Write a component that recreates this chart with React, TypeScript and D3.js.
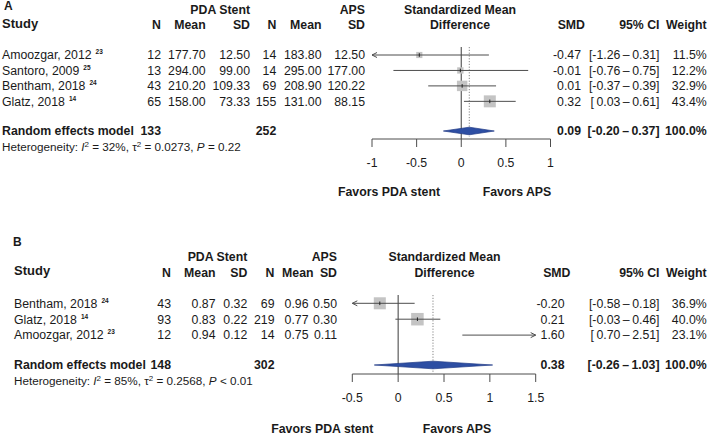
import React from "react";
import * as d3 from "d3";

// ---------- Panel A data ----------
const studiesA = ["Amoozgar, 2012", "Santoro, 2009", "Bentham, 2018", "Glatz, 2018"];
const refsA = ["23", "25", "24", "14"];
const nEA = ["12", "13", "43", "65"];
const meanEA = ["177.70", "294.00", "210.20", "158.00"];
const sdEA = ["12.50", "99.00", "109.33", "73.33"];
const nCA = ["14", "14", "69", "155"];
const meanCA = ["183.80", "295.00", "208.90", "131.00"];
const sdCA = ["12.50", "177.00", "120.22", "88.15"];
const smdA = [-0.47, -0.01, 0.01, 0.32];
const loA = [-1.26, -0.76, -0.37, 0.03];
const hiA = [0.31, 0.75, 0.39, 0.61];
const weightA = [11.5, 12.2, 32.9, 43.4];
const pooledA = { nE: "133", nC: "252", smd: 0.09, lo: -0.2, hi: 0.37 };
const hetA = { i2: "32%", tau2: "0.0273", p: "= 0.22" };
const ticksA = [-1, -0.5, 0, 0.5, 1];

// ---------- Panel B data ----------
const studiesB = ["Bentham, 2018", "Glatz, 2018", "Amoozgar, 2012"];
const refsB = ["24", "14", "23"];
const nEB = ["43", "93", "12"];
const meanEB = ["0.87", "0.83", "0.94"];
const sdEB = ["0.32", "0.22", "0.12"];
const nCB = ["69", "219", "14"];
const meanCB = ["0.96", "0.77", "0.75"];
const sdCB = ["0.50", "0.30", "0.11"];
const smdB = [-0.2, 0.21, 1.6];
const loB = [-0.58, -0.03, 0.7];
const hiB = [0.18, 0.46, 2.51];
const weightB = [36.9, 40.0, 23.1];
const pooledB = { nE: "148", nC: "302", smd: 0.38, lo: -0.26, hi: 1.03 };
const hetB = { i2: "85%", tau2: "0.2568", p: "< 0.01" };
const ticksB = [-0.5, 0, 0.5, 1, 1.5];

const FONT = "'Liberation Sans', Arial, Helvetica, sans-serif";
const TXT = "#1a1a1a";
const LINE = "#4d4d4d";

const fmt2 = (v: number) => (v < 0 ? "-" : "") + Math.abs(v).toFixed(2);
const fmtCI = (lo: number, hi: number) =>
  "[" + (lo < 0 ? "-" : "\u2009") + Math.abs(lo).toFixed(2) + "\u2009\u2013\u2009" + fmt2(hi) + "]";
const fmtTick = (v: number) => (v < 0 ? "-" : "") + String(Math.abs(v));

type Cols = { nE: number; meanE: number; sdE: number; nC: number; meanC: number; sdC: number };

type PanelProps = {
  letter: string;
  letterX: number;
  letterY: number;
  left: number;
  studies: string[];
  refs: string[];
  nE: string[];
  meanE: string[];
  sdE: string[];
  nC: string[];
  meanC: string[];
  sdC: string[];
  smd: number[];
  lo: number[];
  hi: number[];
  weight: number[];
  pooled: { nE: string; nC: string; smd: number; lo: number; hi: number };
  het: { i2: string; tau2: string; p: string };
  ticks: number[];
  xRange: [number, number];
  cols: Cols;
  hcols: Cols;
  right: { smdHead: number; smd: number; ci: number; w: number };
  hdr1: number;
  hdr2: number;
  studyY: number;
  row0: number;
  rowStep: number;
  pooledY: number;
  hetY: number;
  axisY: number;
  lineTop: number;
  favorY: number;
  favorLeftEnd: number;
  favorRightStart: number;
  smdCenter: number;
  sqK: number;
};

function Arrow({ x1, x2, y }: { x1: number; x2: number; y: number }) {
  const dir = x2 > x1 ? 1 : -1;
  return (
    <g stroke={LINE} strokeWidth={1} fill="none">
      <line x1={x1} x2={x2} y1={y} y2={y} />
      <path d={`M${x2 - dir * 5},${y - 2.5}L${x2},${y}L${x2 - dir * 5},${y + 2.5}`} />
    </g>
  );
}

function Panel(p: PanelProps) {
  const [d0, d1] = d3.extent(p.ticks) as [number, number];
  const x = d3.scaleLinear().domain([d0, d1]).range(p.xRange);
  const y = d3.scaleLinear().domain([0, 1]).range([p.row0, p.row0 + p.rowStep]);
  const fs = 12.3;
  const bold = { fontWeight: 700 } as const;
  const rows = p.studies.map((s, i) => i);
  const diamondH = 3.8;

  return (
    <g fontFamily={FONT} fill={TXT} fontSize={fs}>
      <text x={p.letterX} y={p.letterY} {...bold} fontSize={12}>
        {p.letter}
      </text>
      {/* headers */}
      <text x={p.hcols.sdE} y={p.hdr1} dy="0.35em" textAnchor="end" {...bold}>
        PDA Stent
      </text>
      <text x={p.hcols.sdC} y={p.hdr1} dy="0.35em" textAnchor="end" {...bold}>
        APS
      </text>
      <text x={p.left} y={p.studyY} dy="0.35em" {...bold} fontSize={13}>
        Study
      </text>
      {(["nE", "meanE", "sdE", "nC", "meanC", "sdC"] as const).map((k) => (
        <text key={k} x={p.hcols[k]} y={p.hdr2} dy="0.35em" textAnchor="end" {...bold}>
          {k.startsWith("n") ? "N" : k.startsWith("mean") ? "Mean" : "SD"}
        </text>
      ))}
      <text x={p.smdCenter} y={p.hdr1} dy="0.35em" textAnchor="middle" {...bold}>
        Standardized Mean
      </text>
      <text x={p.smdCenter} y={p.hdr2} dy="0.35em" textAnchor="middle" {...bold}>
        Difference
      </text>
      <text x={p.right.smdHead} y={p.hdr2} dy="0.35em" textAnchor="end" {...bold}>
        SMD
      </text>
      <text x={p.right.ci} y={p.hdr2} dy="0.35em" textAnchor="end" {...bold}>
        95% CI
      </text>
      <text x={p.right.w} y={p.hdr2} dy="0.35em" textAnchor="end" {...bold}>
        Weight
      </text>

      {/* study rows */}
      {rows.map((i) => {
        const yy = y(i);
        return (
          <g key={i}>
            <text x={p.left} y={yy} dy="0.35em">
              {p.studies[i]}
              <tspan dx={4} dy={-5} fontSize={6.5} fontWeight={700}>
                {p.refs[i]}
              </tspan>
            </text>
            <text x={p.cols.nE} y={yy} dy="0.35em" textAnchor="end">{p.nE[i]}</text>
            <text x={p.cols.meanE} y={yy} dy="0.35em" textAnchor="end">{p.meanE[i]}</text>
            <text x={p.cols.sdE} y={yy} dy="0.35em" textAnchor="end">{p.sdE[i]}</text>
            <text x={p.cols.nC} y={yy} dy="0.35em" textAnchor="end">{p.nC[i]}</text>
            <text x={p.cols.meanC} y={yy} dy="0.35em" textAnchor="end">{p.meanC[i]}</text>
            <text x={p.cols.sdC} y={yy} dy="0.35em" textAnchor="end">{p.sdC[i]}</text>
            <text x={p.right.smd} y={yy} dy="0.35em" textAnchor="end">{fmt2(p.smd[i])}</text>
            <text x={p.right.ci} y={yy} dy="0.35em" textAnchor="end">{fmtCI(p.lo[i], p.hi[i])}</text>
            <text x={p.right.w} y={yy} dy="0.35em" textAnchor="end">{p.weight[i].toFixed(1)}%</text>
          </g>
        );
      })}

      {/* pooled row text */}
      <text x={p.left} y={p.pooledY} dy="0.35em" {...bold}>Random effects model</text>
      <text x={p.cols.nE} y={p.pooledY} dy="0.35em" textAnchor="end" {...bold}>{p.pooled.nE}</text>
      <text x={p.cols.nC} y={p.pooledY} dy="0.35em" textAnchor="end" {...bold}>{p.pooled.nC}</text>
      <text x={p.right.smd} y={p.pooledY} dy="0.35em" textAnchor="end" {...bold}>{fmt2(p.pooled.smd)}</text>
      <text x={p.right.ci} y={p.pooledY} dy="0.35em" textAnchor="end" {...bold}>{fmtCI(p.pooled.lo, p.pooled.hi)}</text>
      <text x={p.right.w} y={p.pooledY} dy="0.35em" textAnchor="end" {...bold}>100.0%</text>

      <text x={p.left} y={p.hetY} dy="0.35em" fontSize={11.7}>
        Heterogeneity: <tspan fontStyle="italic">I</tspan>
        <tspan dy={-4} fontSize={8}>2</tspan>
        <tspan dy={4}> = {p.het.i2}, τ</tspan>
        <tspan dy={-4} fontSize={8}>2</tspan>
        <tspan dy={4}> = {p.het.tau2}, </tspan>
        <tspan fontStyle="italic">P</tspan> {p.het.p}
      </text>

      {/* plot: reference lines */}
      <line x1={x(0)} x2={x(0)} y1={p.lineTop} y2={p.axisY} stroke={LINE} strokeWidth={1.1} />
      <line
        x1={x(p.pooled.smd)}
        x2={x(p.pooled.smd)}
        y1={p.lineTop}
        y2={p.axisY - 2}
        stroke="#777"
        strokeWidth={0.9}
        strokeDasharray="1.2,1.6"
      />

      {/* study markers */}
      {rows.map((i) => {
        const yy = y(i);
        const inside = p.smd[i] >= d0 && p.smd[i] <= d1;
        const s = p.sqK * Math.sqrt(p.weight[i]);
        const lo = Math.max(p.lo[i], d0);
        const hi = Math.min(p.hi[i], d1);
        const cx = x(p.smd[i]);
        return (
          <g key={i}>
            {inside && (
              <rect x={cx - s / 2} y={yy - s / 2} width={s} height={s} fill="#c4c4c4" />
            )}
            {p.lo[i] < d0 ? (
              <Arrow x1={x(hi)} x2={x(d0)} y={yy} />
            ) : p.hi[i] > d1 ? (
              <Arrow x1={x(lo)} x2={x(d1)} y={yy} />
            ) : (
              <line x1={x(lo)} x2={x(hi)} y1={yy} y2={yy} stroke={LINE} strokeWidth={1} />
            )}
            {inside && <line x1={cx} x2={cx} y1={yy - 1.8} y2={yy + 1.8} stroke="#222" strokeWidth={1} />}
          </g>
        );
      })}

      {/* pooled diamond */}
      <path
        d={`M${x(p.pooled.lo)},${p.pooledY}L${x(p.pooled.smd)},${p.pooledY - diamondH}L${x(p.pooled.hi)},${p.pooledY}L${x(p.pooled.smd)},${p.pooledY + diamondH}Z`}
        fill="#2d4ea3"
        stroke="#1f3a85"
        strokeWidth={0.7}
      />

      {/* axis */}
      <g stroke={LINE} strokeWidth={1}>
        <line x1={x(d0)} x2={x(d1)} y1={p.axisY} y2={p.axisY} />
        {p.ticks.map((t) => (
          <line key={t} x1={x(t)} x2={x(t)} y1={p.axisY} y2={p.axisY + 8} />
        ))}
      </g>
      {p.ticks.map((t) => (
        <text key={t} x={x(t)} y={p.axisY + 24} dy="0.35em" textAnchor="middle">
          {fmtTick(t)}
        </text>
      ))}
      <text x={p.favorLeftEnd} y={p.favorY} dy="0.35em" textAnchor="end" {...bold}>
        Favors PDA stent
      </text>
      <text x={p.favorRightStart} y={p.favorY} dy="0.35em" {...bold}>
        Favors APS
      </text>
    </g>
  );
}

export default function App() {
  return (
    <svg
      width={709}
      height={435}
      style={{ position: "absolute", left: 0, top: 0, background: "#fff" }}
    >
      <rect width={709} height={435} fill="#fff" />
      <Panel
        letter="A"
        letterX={4}
        letterY={9.5}
        left={2}
        studies={studiesA}
        refs={refsA}
        nE={nEA}
        meanE={meanEA}
        sdE={sdEA}
        nC={nCA}
        meanC={meanCA}
        sdC={sdCA}
        smd={smdA}
        lo={loA}
        hi={hiA}
        weight={weightA}
        pooled={pooledA}
        het={hetA}
        ticks={ticksA}
        xRange={[372, 550.5]}
        cols={{ nE: 161, meanE: 205.7, sdE: 250, nC: 276.3, meanC: 321.5, sdC: 365 }}
        hcols={{ nE: 161, meanE: 205.7, sdE: 250, nC: 276.3, meanC: 321.5, sdC: 365 }}
        right={{ smdHead: 585, smd: 581, ci: 659.5, w: 706.7 }}
        hdr1={10}
        hdr2={25}
        studyY={23.3}
        row0={55}
        rowStep={15.45}
        pooledY={131}
        hetY={146.5}
        axisY={139}
        lineTop={47}
        favorY={192}
        favorLeftEnd={440}
        favorRightStart={482.7}
        smdCenter={460}
        sqK={1.82}
      />
      <Panel
        letter="B"
        letterX={13}
        letterY={246}
        left={14}
        studies={studiesB}
        refs={refsB}
        nE={nEB}
        meanE={meanEB}
        sdE={sdEB}
        nC={nCB}
        meanC={meanCB}
        sdC={sdCB}
        smd={smdB}
        lo={loB}
        hi={hiB}
        weight={weightB}
        pooled={pooledB}
        het={hetB}
        ticks={ticksB}
        xRange={[352.3, 535.7]}
        cols={{ nE: 171, meanE: 215.5, sdE: 247.3, nC: 274.5, meanC: 308.5, sdC: 337 }}
        hcols={{ nE: 171, meanE: 215.5, sdE: 247.3, nC: 274.5, meanC: 313.5, sdC: 337 }}
        right={{ smdHead: 570.5, smd: 564.5, ci: 659.5, w: 706.7 }}
        hdr1={257}
        hdr2={272.5}
        studyY={270}
        row0={303.3}
        rowStep={15.9}
        pooledY={365}
        hetY={380.5}
        axisY={374}
        lineTop={295}
        favorY={428.5}
        favorLeftEnd={373.3}
        favorRightStart={422.7}
        smdCenter={444.5}
        sqK={1.98}
      />
    </svg>
  );
}
